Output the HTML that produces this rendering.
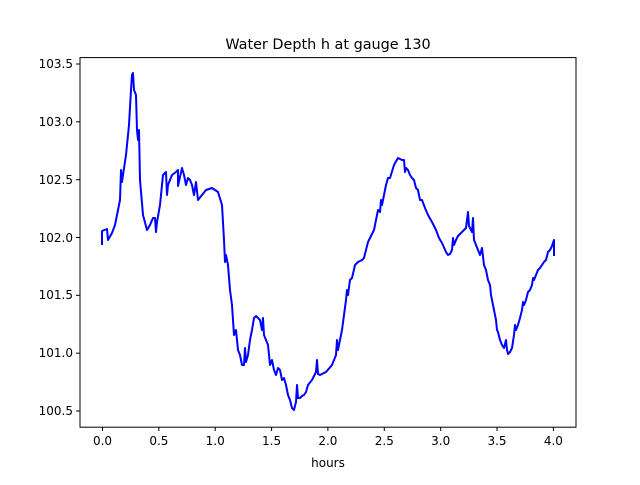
<!DOCTYPE html>
<html><head><style>body{margin:0;background:#fff}</style></head><body>
<svg width="640" height="480" xmlns="http://www.w3.org/2000/svg" font-family="DejaVu Sans, Liberation Sans, sans-serif">
<rect width="640" height="480" fill="#fff"/>
<polyline fill="none" stroke="#0000ff" stroke-width="2" stroke-linejoin="round" points="102,245 102,231 107,229 108,240 112,233 115,225 118,210 120,200 121,170 122,182 123,175 126,155 129,125 131,90 132,75 133,73 134,90 136,95 137,130 138,140 139,130 140,180 143,215 147,230 150,225 153,218 155,218 156,232 157,222 160,205 163,175 166,172 167,195 168,185 172,175 176,172 178,170 178,186 182,168 184,175 186,185 188,178 190,180 192,185 194,195 196,182 198,200 202,195 206,190 212,188 218,192 222,205 224,240 225,262 226,255 228,265 230,290 232,305 233,320 234,335 236,330 238,350 240,355 242,365 244,365 245,348 246,362 248,355 250,340 252,330 254,318 256,316 258,318 260,320 262,330 263,318 264,335 266,340 268,345 269,355 270,365 272,360 274,370 276,375 278,368 280,370 282,380 284,378 286,385 288,395 290,400 292,408 294,410 296,402 297,385 298,398 300,398 302,396 304,395 306,392 308,385 312,380 314,376 316,372 317,360 318,374 320,375 326,372 332,365 336,355 337,340 338,350 340,340 342,330 344,315 346,300 347,290 348,295 350,280 352,278 355,265 358,262 362,260 364,258 366,250 368,242 370,238 374,230 376,220 378,210 380,212 381,200 382,205 384,195 386,185 388,178 390,178 394,165 398,158 402,160 404,160 405,172 406,168 408,170 410,175 412,178 414,180 416,188 418,190 420,200 422,200 425,208 428,215 432,222 436,230 439,238 442,243 446,252 448,255 450,254 452,250 453,238 454,245 456,240 458,236 462,232 466,228 468,212 469,226 472,232 473,218 474,240 476,245 478,250 480,255 482,248 484,265 486,270 488,280 490,285 491,295 492,300 494,310 496,320 497,330 498,332 500,340 502,345 504,348 506,340 507,350 508,354 510,352 512,348 514,335 515,325 516,330 518,325 520,318 522,310 523,302 524,305 526,300 528,292 530,290 532,285 533,278 534,280 536,275 538,270 540,268 542,265 544,262 546,260 548,252 550,250 552,246 554,240 554,256"/>
<rect x="80" y="57.6" width="496" height="369.6" fill="none" stroke="#000" stroke-width="1"/>
<g stroke="#000" stroke-width="1">
<line x1="102.5" y1="427" x2="102.5" y2="431"/><line x1="158.9" y1="427" x2="158.9" y2="431"/><line x1="215.2" y1="427" x2="215.2" y2="431"/><line x1="271.6" y1="427" x2="271.6" y2="431"/><line x1="327.9" y1="427" x2="327.9" y2="431"/><line x1="384.3" y1="427" x2="384.3" y2="431"/><line x1="440.7" y1="427" x2="440.7" y2="431"/><line x1="497" y1="427" x2="497" y2="431"/><line x1="553.4" y1="427" x2="553.4" y2="431"/>
<line x1="76" y1="64" x2="80" y2="64"/><line x1="76" y1="121.8" x2="80" y2="121.8"/><line x1="76" y1="179.7" x2="80" y2="179.7"/><line x1="76" y1="237.5" x2="80" y2="237.5"/><line x1="76" y1="295.3" x2="80" y2="295.3"/><line x1="76" y1="353.2" x2="80" y2="353.2"/><line x1="76" y1="411" x2="80" y2="411"/>
</g>
<g font-size="12" fill="#000" text-anchor="middle">
<text x="102.5" y="445">0.0</text><text x="158.9" y="445">0.5</text><text x="215.2" y="445">1.0</text><text x="271.6" y="445">1.5</text><text x="327.9" y="445">2.0</text><text x="384.3" y="445">2.5</text><text x="440.7" y="445">3.0</text><text x="497" y="445">3.5</text><text x="553.4" y="445">4.0</text>
<text x="328" y="467">hours</text>
</g>
<g font-size="12" fill="#000" text-anchor="end">
<text x="73" y="68">103.5</text><text x="73" y="126">103.0</text><text x="73" y="184">102.5</text><text x="73" y="242">102.0</text><text x="73" y="299">101.5</text><text x="73" y="357">101.0</text><text x="73" y="415">100.5</text>
</g>
<text x="328" y="49" font-size="14.4" text-anchor="middle">Water Depth h at gauge 130</text>
</svg>
</body></html>
